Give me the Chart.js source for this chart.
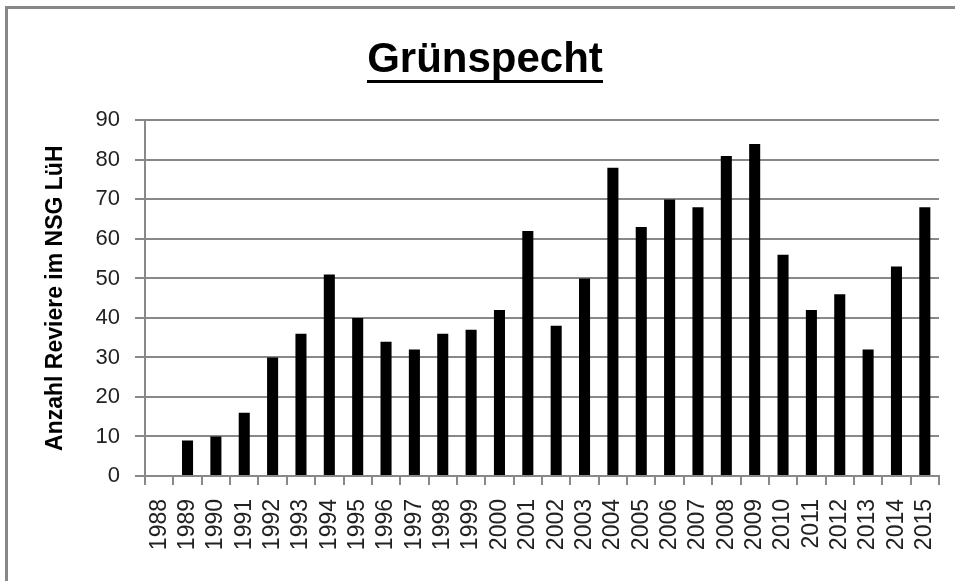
<!DOCTYPE html>
<html>
<head>
<meta charset="utf-8">
<script src="https://cdn.jsdelivr.net/npm/chart.js@4"></script>
<style>
  html, body { margin: 0; padding: 0; background: #fff; }
  #wrap { position: relative; width: 955px; height: 581px; overflow: hidden; }
  #frame { position: absolute; left: 5px; top: 6px; width: 2000px; height: 2000px;
           border-top: 3px solid #878787; border-left: 3px solid #878787; }
  #c { position: absolute; left: 0; top: 0; }
</style>
</head>
<body>
<div id="wrap">
  <div id="frame"></div>
  <canvas id="c" width="955" height="581"></canvas>
</div>
<script>
var years = ['1988', '1989', '1990', '1991', '1992', '1993', '1994', '1995', '1996', '1997',
             '1998', '1999', '2000', '2001', '2002', '2003', '2004', '2005', '2006', '2007',
             '2008', '2009', '2010', '2011', '2012', '2013', '2014', '2015'];
var reviere = [0, 9, 10, 16, 30, 36, 51, 40, 34, 32,
               36, 37, 42, 62, 38, 50, 78, 63, 70, 68,
               81, 84, 56, 42, 46, 32, 53, 68];

var titleText = 'Grünspecht';
var titleSize = 42;
var gridGray = '#888888';

// Chart.js title has no underline, so draw one under it
var underline = {
    id: 'underline',
    afterDraw: function (chart) {
        var t = chart.titleBlock;
        if (!t) return;
        var ctx = chart.ctx;
        ctx.save();
        ctx.font = 'bold ' + titleSize + 'px "Liberation Sans"';
        var w = ctx.measureText(titleText).width;
        var cx = (t.left + t.right) / 2;
        var mid = t.top + t.options.padding.top + titleSize * 1.2 / 2;
        var y = mid + titleSize * 0.5;
        ctx.fillStyle = '#000';
        ctx.fillRect(Math.round(cx - w / 2), Math.round(y - 1.5), Math.round(w), 3);
        ctx.restore();
    }
};

var ctx = document.getElementById('c').getContext('2d');
var chart = new Chart(ctx, {
    type: 'bar',
    data: {
        labels: years,
        datasets: [{
            label: 'Reviere',
            data: reviere,
            backgroundColor: '#000',
            borderWidth: 0,
            barPercentage: 0.39,
            categoryPercentage: 1.0
        }]
    },
    options: {
        responsive: false,
        devicePixelRatio: 1,
        animation: false,
        layout: {
            padding: { left: 31, right: 16, top: 0, bottom: 0 }
        },
        plugins: {
            legend: { display: false },
            tooltip: { enabled: false },
            title: {
                display: true,
                text: titleText,
                color: '#000',
                font: { family: '"Liberation Sans"', size: titleSize, weight: 'bold' },
                padding: { top: 35, bottom: 35 }
            }
        },
        scales: {
            x: {
                offset: true,
                afterFit: function (scale) {
                    scale.height = 105;
                    scale.paddingLeft = 0;
                    scale.paddingRight = 0;
                },
                grid: {
                    offset: true,
                    drawOnChartArea: false,
                    drawTicks: true,
                    tickLength: 9,
                    color: gridGray,
                    lineWidth: 2
                },
                border: { color: gridGray, width: 2 },
                ticks: {
                    autoSkip: false,
                    minRotation: 90,
                    maxRotation: 90,
                    padding: 14,
                    color: '#222',
                    font: { family: '"Liberation Sans"', size: 23 }
                }
            },
            y: {
                min: 0,
                max: 90,
                afterFit: function (scale) { scale.width = 114; },
                grid: {
                    color: gridGray,
                    lineWidth: 2,
                    tickLength: 10
                },
                border: { color: gridGray, width: 2 },
                ticks: {
                    stepSize: 10,
                    padding: 15,
                    color: '#222',
                    font: { family: '"Liberation Sans"', size: 22 }
                },
                title: {
                    display: true,
                    text: 'Anzahl Reviere im NSG LüH',
                    color: '#000',
                    font: { family: '"Liberation Sans"', size: 23, weight: 'bold' },
                    padding: { top: 11, bottom: 0 }
                }
            }
        }
    },
    plugins: [underline]
});
</script>
</body>
</html>
